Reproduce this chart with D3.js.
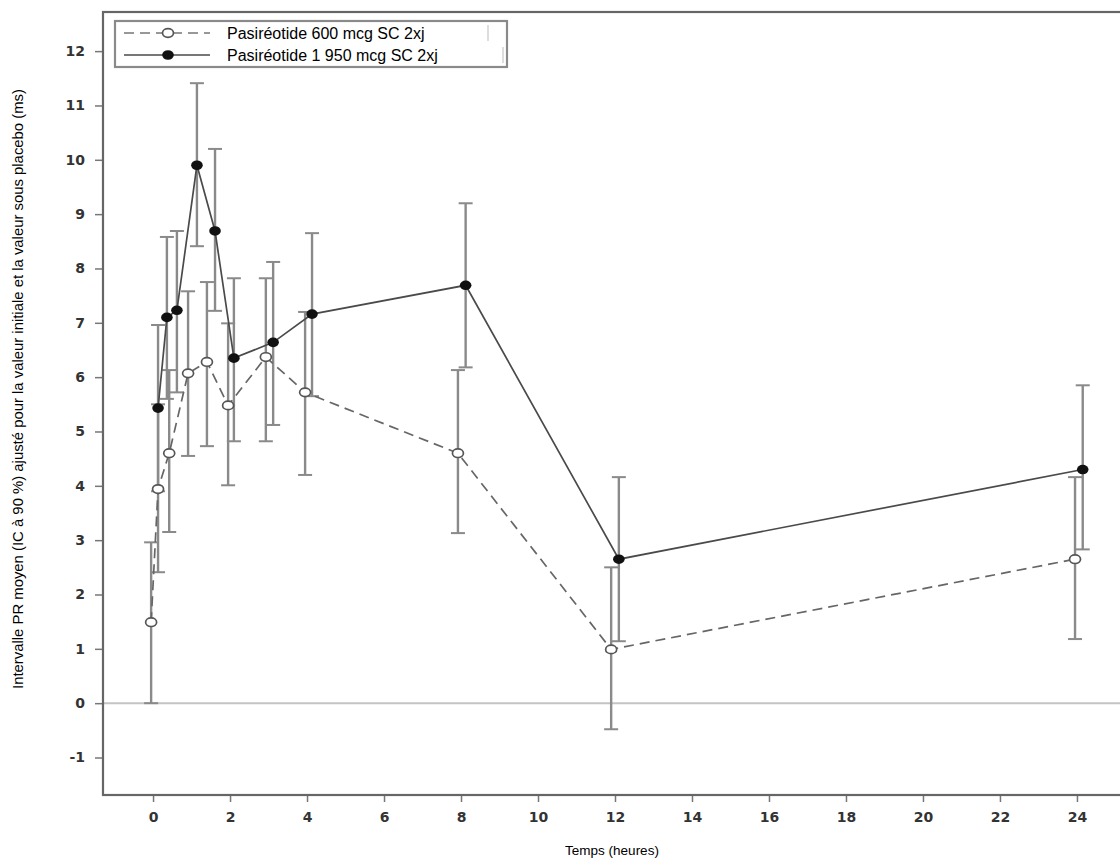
<!DOCTYPE html>
<html lang="fr">
<head>
<meta charset="UTF-8">
<title>Intervalle PR - Pasiréotide</title>
<script src="https://d3js.org/d3.v7.min.js"></script>
<style>
  body { margin: 0; background: #fff; }
  #chart text { font-family: "Liberation Sans", Arial, sans-serif; }
  .ticklabel { font-family: "DejaVu Sans", sans-serif !important; font-weight: bold; font-size: 14px; fill: #333; }
</style>
</head>
<body>
<div id="chart"></div>
<script>
"use strict"

// Pasiréotide 600 mcg SC 2xj (cercles vides, tirets)
var tempos600 = [-0.05, 0.13, 0.42, 0.91, 1.40, 1.95, 2.93, 3.95, 7.92, 11.9, 23.95];
var media600  = [1.49, 3.94, 4.60, 6.07, 6.28, 5.48, 6.37, 5.72, 4.60, 0.99, 2.65];
var inf600    = [0.00, 2.41, 3.15, 4.55, 4.73, 4.01, 4.82, 4.20, 3.13, -0.48, 1.18];
var sup600    = [2.96, 5.50, 6.13, 7.58, 7.75, 6.99, 7.82, 7.20, 6.13, 2.50, 4.16];

// Pasiréotide 1 950 mcg SC 2xj (cercles pleins, trait continu)
var tempos1950 = [0.13, 0.36, 0.62, 1.14, 1.61, 2.10, 3.12, 4.13, 8.12, 12.1, 24.15];
var media1950  = [5.43, 7.10, 7.23, 9.90, 8.69, 6.35, 6.64, 7.16, 7.69, 2.65, 4.30];
var inf1950    = [3.90, 5.60, 5.72, 8.41, 7.22, 4.82, 5.12, 5.65, 6.18, 1.14, 2.83];
var sup1950    = [6.96, 8.58, 8.69, 11.41, 10.20, 7.82, 8.12, 8.65, 9.20, 4.16, 5.85];

var ticksX = [0, 2, 4, 6, 8, 10, 12, 14, 16, 18, 20, 22, 24];
var ticksY = [-1, 0, 1, 2, 3, 4, 5, 6, 7, 8, 9, 10, 11, 12];

var legendas = ["Pasiréotide 600 mcg SC 2xj", "Pasiréotide 1 950 mcg SC 2xj"];
var tituloX = "Temps (heures)";
var tituloY = "Intervalle PR moyen (IC à 90 %) ajusté pour la valeur initiale et la valeur sous placebo (ms)";

function serie(t, m, lo, hi) {
  return t.map((d, i) => ({t: d, m: m[i], lo: lo[i], hi: hi[i]}));
}

var dados600 = serie(tempos600, media600, inf600, sup600);
var dados1950 = serie(tempos1950, media1950, inf1950, sup1950);

var larguraSVG = 1120, alturaSVG = 861;
var margin = {top: 12, right: -7, bottom: 66, left: 103};

var svg = d3.select('#chart')
  .append('svg')
    .attr('width', larguraSVG)
    .attr('height', alturaSVG);

var x = d3.scaleLinear()
          .domain([-1.3, 25.3])
          .range([margin.left, larguraSVG - margin.right]);

var y = d3.scaleLinear()
          .domain([-1.69, 12.72])
          .range([alturaSVG - margin.bottom, margin.top]);

// linha do zero
svg.append('line')
  .attr('x1', x.range()[0]).attr('x2', x.range()[1])
  .attr('y1', y(0)).attr('y2', y(0))
  .attr('stroke', '#c4c4c4')
  .attr('stroke-width', 2);

// barras de erro
function barras(dados, classe) {
  var g = svg.append('g').attr('class', classe);
  g.selectAll('line.v')
    .data(dados)
    .enter()
    .append('line')
      .attr('x1', d => x(d.t)).attr('x2', d => x(d.t))
      .attr('y1', d => y(d.lo)).attr('y2', d => y(d.hi))
      .attr('stroke', '#8a8a8a')
      .attr('stroke-width', 2.4);
  ['lo', 'hi'].forEach(function(k) {
    g.selectAll('line.' + k)
      .data(dados)
      .enter()
      .append('line')
        .attr('x1', d => x(d.t) - 7).attr('x2', d => x(d.t) + 7)
        .attr('y1', d => y(d[k])).attr('y2', d => y(d[k]))
        .attr('stroke', '#8a8a8a')
        .attr('stroke-width', 2);
  });
}
barras(dados600, 'eb600');
barras(dados1950, 'eb1950');

var linha = d3.line().x(d => x(d.t)).y(d => y(d.m));

svg.append('path')
  .datum(dados600)
  .attr('d', linha)
  .attr('fill', 'none')
  .attr('stroke', '#666')
  .attr('stroke-width', 1.7)
  .attr('stroke-dasharray', '10,6');

svg.append('path')
  .datum(dados1950)
  .attr('d', linha)
  .attr('fill', 'none')
  .attr('stroke', '#4a4a4a')
  .attr('stroke-width', 1.7);

svg.selectAll('ellipse.p600')
  .data(dados600)
  .enter()
  .append('ellipse')
    .attr('class', 'p600')
    .attr('cx', d => x(d.t))
    .attr('cy', d => y(d.m))
    .attr('rx', 5.5).attr('ry', 4.3)
    .attr('fill', '#fff')
    .attr('stroke', '#555')
    .attr('stroke-width', 1.7);

svg.selectAll('ellipse.p1950')
  .data(dados1950)
  .enter()
  .append('ellipse')
    .attr('class', 'p1950')
    .attr('cx', d => x(d.t))
    .attr('cy', d => y(d.m))
    .attr('rx', 5.8).attr('ry', 4.8)
    .attr('fill', '#111');

// eixos
var eixoY = svg.append('g')
  .attr('transform', 'translate(' + margin.left + ',0)')
  .call(d3.axisLeft(y).tickValues(ticksY).tickSize(8).tickPadding(10).tickFormat(d => String(d)));
eixoY.selectAll('text').attr('class', 'ticklabel');

var eixoX = svg.append('g')
  .attr('transform', 'translate(0,' + y.range()[0] + ')')
  .call(d3.axisBottom(x).tickValues(ticksX).tickSize(7).tickPadding(10).tickFormat(d => String(d)));
eixoX.selectAll('text').attr('class', 'ticklabel');

svg.selectAll('.domain').remove();
svg.selectAll('.tick line').attr('stroke', '#777').attr('stroke-width', 1.5);

// moldura
svg.append('rect')
  .attr('x', margin.left).attr('y', margin.top)
  .attr('width', x.range()[1] - margin.left)
  .attr('height', y.range()[0] - margin.top)
  .attr('fill', 'none')
  .attr('stroke', '#666')
  .attr('stroke-width', 2.2);

// legenda
var leg = svg.append('g');
leg.append('rect')
  .attr('x', 115).attr('y', 21).attr('width', 392).attr('height', 46)
  .attr('fill', '#fff')
  .attr('stroke', '#8a8a8a')
  .attr('stroke-width', 2.2);

[0, 1].forEach(function(i) {
  var ly = 33 + i * 22;
  leg.append('line')
    .attr('x1', 124).attr('x2', 210).attr('y1', ly).attr('y2', ly)
    .attr('stroke', i == 0 ? '#777' : '#4a4a4a')
    .attr('stroke-width', 1.7)
    .attr('stroke-dasharray', i == 0 ? '10,6' : null);
  leg.append('ellipse')
    .attr('cx', 168).attr('cy', ly)
    .attr('rx', i == 0 ? 5.5 : 5.8).attr('ry', i == 0 ? 4.3 : 4.8)
    .attr('fill', i == 0 ? '#fff' : '#111')
    .attr('stroke', i == 0 ? '#555' : 'none')
    .attr('stroke-width', 1.7);
  leg.append('text')
    .attr('x', 227).attr('y', ly + 6)
    .style('font-size', '16px')
    .attr('fill', '#000')
    .text(legendas[i]);
  // bordo da caixa branca do texto
  leg.append('line')
    .attr('x1', i == 0 ? 488 : 503).attr('x2', i == 0 ? 488 : 503)
    .attr('y1', ly - 8).attr('y2', ly + 8)
    .attr('stroke', '#bbb')
    .attr('stroke-width', 1);
});

// titulos
svg.append('text')
  .attr('x', 612).attr('y', 855)
  .style('text-anchor', 'middle')
  .style('font-size', '13.5px')
  .text(tituloX);

svg.append('text')
  .attr('transform', 'translate(23,389) rotate(-90)')
  .style('text-anchor', 'middle')
  .style('font-size', '14px')
  .attr('textLength', 600)
  .attr('lengthAdjust', 'spacingAndGlyphs')
  .text(tituloY);
</script>
</body>
</html>
